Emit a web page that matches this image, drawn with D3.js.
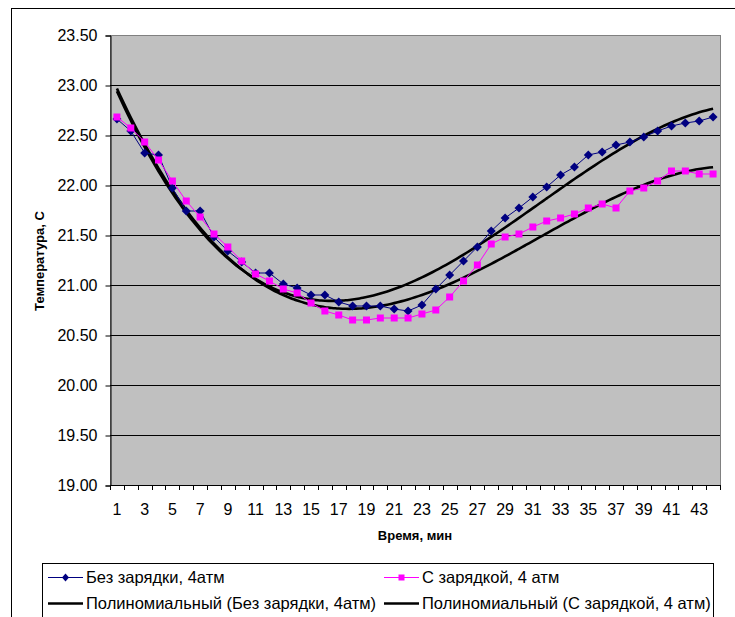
<!DOCTYPE html>
<html>
<head>
<meta charset="utf-8">
<script src="https://d3js.org/d3.v7.min.js"></script>
<style>
  body { margin: 0; background: #fff; }
  text { font-family: "Liberation Sans", Arial, sans-serif; fill: #000; }
</style>
</head>
<body>
<script>
// время, мин
var minutes = d3.range(1, 45);
// Без зарядки, 4атм
var noCharge = [22.66,22.54,22.32,22.30,21.97,21.74,21.74,21.48,21.34,21.23,
  21.12,21.12,21.01,20.97,20.90,20.90,20.83,20.79,20.79,20.79,
  20.76,20.74,20.80,20.96,21.10,21.24,21.38,21.54,21.67,21.77,
  21.88,21.98,22.10,22.18,22.30,22.33,22.40,22.43,22.48,22.54,
  22.59,22.62,22.64,22.68];
// С зарядкой, 4 атм
var withCharge = [22.68,22.57,22.43,22.25,22.04,21.84,21.68,21.51,21.38,21.24,
  21.11,21.04,20.96,20.92,20.82,20.74,20.70,20.65,20.65,20.67,
  20.67,20.67,20.71,20.75,20.88,21.04,21.20,21.41,21.48,21.51,
  21.58,21.64,21.67,21.71,21.77,21.81,21.77,21.94,21.97,22.04,
  22.14,22.14,22.11,22.11];
var yTicks = [19.0,19.5,20.0,20.5,21.0,21.5,22.0,22.5,23.0,23.5];
var xLabels = d3.range(1, 45, 2);
var seriesNames = ["Без зарядки, 4атм", "С зарядкой, 4 атм",
  "Полиномиальный (Без зарядки, 4атм)", "Полиномиальный (С зарядкой, 4 атм)"];
var trendOrder = 3;

// least squares polynomial, x normalised to keep it stable
function polyfit(xs, ys, order) {
  var n = order + 1, A = [], b = [];
  var norm = function(x) { return (x - 22.5) / 21.5; };
  for (var i = 0; i < n; i++) { A.push(new Array(n).fill(0)); b.push(0); }
  xs.forEach(function(x, k) {
    var t = norm(x);
    for (var i = 0; i < n; i++) {
      b[i] += ys[k] * Math.pow(t, i);
      for (var j = 0; j < n; j++) A[i][j] += Math.pow(t, i + j);
    }
  });
  for (var c = 0; c < n; c++) {
    for (var r = c + 1; r < n; r++) {
      var f = A[r][c] / A[c][c];
      for (var j = c; j < n; j++) A[r][j] -= f * A[c][j];
      b[r] -= f * b[c];
    }
  }
  var coef = new Array(n).fill(0);
  for (var i = n - 1; i >= 0; i--) {
    var s = b[i];
    for (var j = i + 1; j < n; j++) s -= A[i][j] * coef[j];
    coef[i] = s / A[i][i];
  }
  return function(x) {
    var t = norm(x), s = 0;
    for (var i = 0; i < n; i++) s += coef[i] * Math.pow(t, i);
    return s;
  };
}

function draw() {
  var width = 735, height = 617;
  var pl = 110, pr = 720, pt = 35, pb = 485;

  var svg = d3.select("body").append("svg")
      .attr("width", width)
      .attr("height", height);

  // chart frame (runs off the right and bottom of the picture)
  svg.append("rect")
      .attr("x", 11.5).attr("y", 8.5)
      .attr("width", 760).attr("height", 640)
      .attr("fill", "#fff").attr("stroke", "#000");

  var x = d3.scaleBand().domain(minutes).range([pl, pr]).padding(0);
  var xc = function(d) { return x(d) + x.bandwidth() / 2; };
  var xLin = d3.scaleLinear().domain([1, 44]).range([xc(1), xc(44)]);
  var y = d3.scaleLinear().domain([19, 23.5]).range([pb, pt]);

  svg.append("rect")
      .attr("x", pl + 0.5).attr("y", pt + 0.5)
      .attr("width", pr - pl).attr("height", pb - pt)
      .attr("fill", "#c0c0c0").attr("stroke", "#808080");

  svg.append("g").selectAll("line")
    .data(yTicks.slice(1, -1))
    .join("line")
      .attr("x1", pl).attr("x2", pr)
      .attr("y1", function(d) { return Math.round(y(d)) + 0.5; })
      .attr("y2", function(d) { return Math.round(y(d)) + 0.5; })
      .attr("stroke", "#000").attr("stroke-width", 1);

  // axes
  var yAxis = svg.append("g")
      .attr("transform", "translate(" + (pl + 0.5) + ",0.5)")
      .call(d3.axisLeft(y).tickValues(yTicks).tickSize(5).tickPadding(8)
        .tickFormat(d3.format(".2f")));
  yAxis.selectAll("text").style("font-size", "16px");
  yAxis.select(".domain").attr("stroke", "#000");

  var xAxis = svg.append("g")
      .attr("transform", "translate(0," + (pb + 0.5) + ")")
      .call(d3.axisBottom(x).tickValues(xLabels).tickSize(0).tickPadding(18));
  xAxis.selectAll("text").style("font-size", "16px");
  xAxis.select(".domain").remove();

  svg.append("g").selectAll("line")
    .data(minutes.concat([45]))
    .join("line")
      .attr("x1", function(d) { return Math.round(pl + (d - 1) * x.step()) + 0.5; })
      .attr("x2", function(d) { return Math.round(pl + (d - 1) * x.step()) + 0.5; })
      .attr("y1", pb).attr("y2", pb + 5)
      .attr("stroke", "#000");
  svg.append("line")
      .attr("x1", pl).attr("x2", pr)
      .attr("y1", pb + 0.5).attr("y2", pb + 0.5)
      .attr("stroke", "#000");

  svg.append("text")
      .attr("x", 415).attr("y", 540)
      .attr("text-anchor", "middle")
      .style("font-size", "13px").style("font-weight", "bold")
      .text("Время, мин");
  svg.append("text")
      .attr("transform", "translate(44,261) rotate(-90)")
      .attr("text-anchor", "middle")
      .style("font-size", "13px").style("font-weight", "bold")
      .text("Температура, С");

  // trend lines
  var fine = d3.range(1, 44.001, 0.25);
  var trendLine = d3.line()
      .x(function(d) { return xLin(d[0]); })
      .y(function(d) { return y(d[1]); })
      .curve(d3.curveMonotoneX);
  [noCharge, withCharge].forEach(function(vals) {
    var f = polyfit(minutes, vals, trendOrder);
    svg.append("path")
        .datum(fine.map(function(m) { return [m, f(m)]; }))
        .attr("d", trendLine)
        .attr("fill", "none").attr("stroke", "#000").attr("stroke-width", 2.6);
  });

  // data series
  var dataLine = d3.line()
      .x(function(d, i) { return xc(minutes[i]); })
      .y(function(d) { return y(d); });

  svg.append("path").datum(noCharge).attr("d", dataLine)
      .attr("fill", "none").attr("stroke", "#000080").attr("stroke-width", 1);
  svg.append("g").selectAll("path")
    .data(noCharge)
    .join("path")
      .attr("transform", function(d, i) { return "translate(" + xc(minutes[i]) + "," + y(d) + ")"; })
      .attr("d", "M0,-4.5L4.5,0L0,4.5L-4.5,0Z")
      .attr("fill", "#000080");

  svg.append("path").datum(withCharge).attr("d", dataLine)
      .attr("fill", "none").attr("stroke", "#ff00ff").attr("stroke-width", 1);
  svg.append("g").selectAll("rect")
    .data(withCharge)
    .join("rect")
      .attr("x", function(d, i) { return xc(minutes[i]) - 3.5; })
      .attr("y", function(d) { return y(d) - 3.5; })
      .attr("width", 7).attr("height", 7)
      .attr("fill", "#ff00ff");

  // legend
  var legend = svg.append("g");
  legend.append("rect")
      .attr("x", 42.5).attr("y", 563.5)
      .attr("width", 671).attr("height", 80)
      .attr("fill", "#fff").attr("stroke", "#000");

  var items = [
    { name: seriesNames[0], x: 48, y: 577, color: "#000080", w: 1, mark: "diamond" },
    { name: seriesNames[1], x: 384, y: 577, color: "#ff00ff", w: 1, mark: "square" },
    { name: seriesNames[2], x: 48, y: 603, color: "#000", w: 2.6 },
    { name: seriesNames[3], x: 384, y: 603, color: "#000", w: 2.6 }
  ];
  items.forEach(function(it) {
    var g = legend.append("g").attr("transform", "translate(" + it.x + "," + it.y + ")");
    g.append("line").attr("x1", 0).attr("x2", 35).attr("y1", 0.5).attr("y2", 0.5)
        .attr("stroke", it.color).attr("stroke-width", it.w);
    if (it.mark === "diamond") {
      g.append("path").attr("d", "M17.5,-3.5L21,0.5L17.5,4.5L14,0.5Z").attr("fill", it.color);
    } else if (it.mark === "square") {
      g.append("rect").attr("x", 14.5).attr("y", -2.5).attr("width", 6).attr("height", 6)
          .attr("fill", it.color);
    }
    g.append("text").attr("x", 38).attr("y", 6)
        .style("font-size", "16.5px")
        .text(it.name);
  });
}

draw();
</script>
</body>
</html>
